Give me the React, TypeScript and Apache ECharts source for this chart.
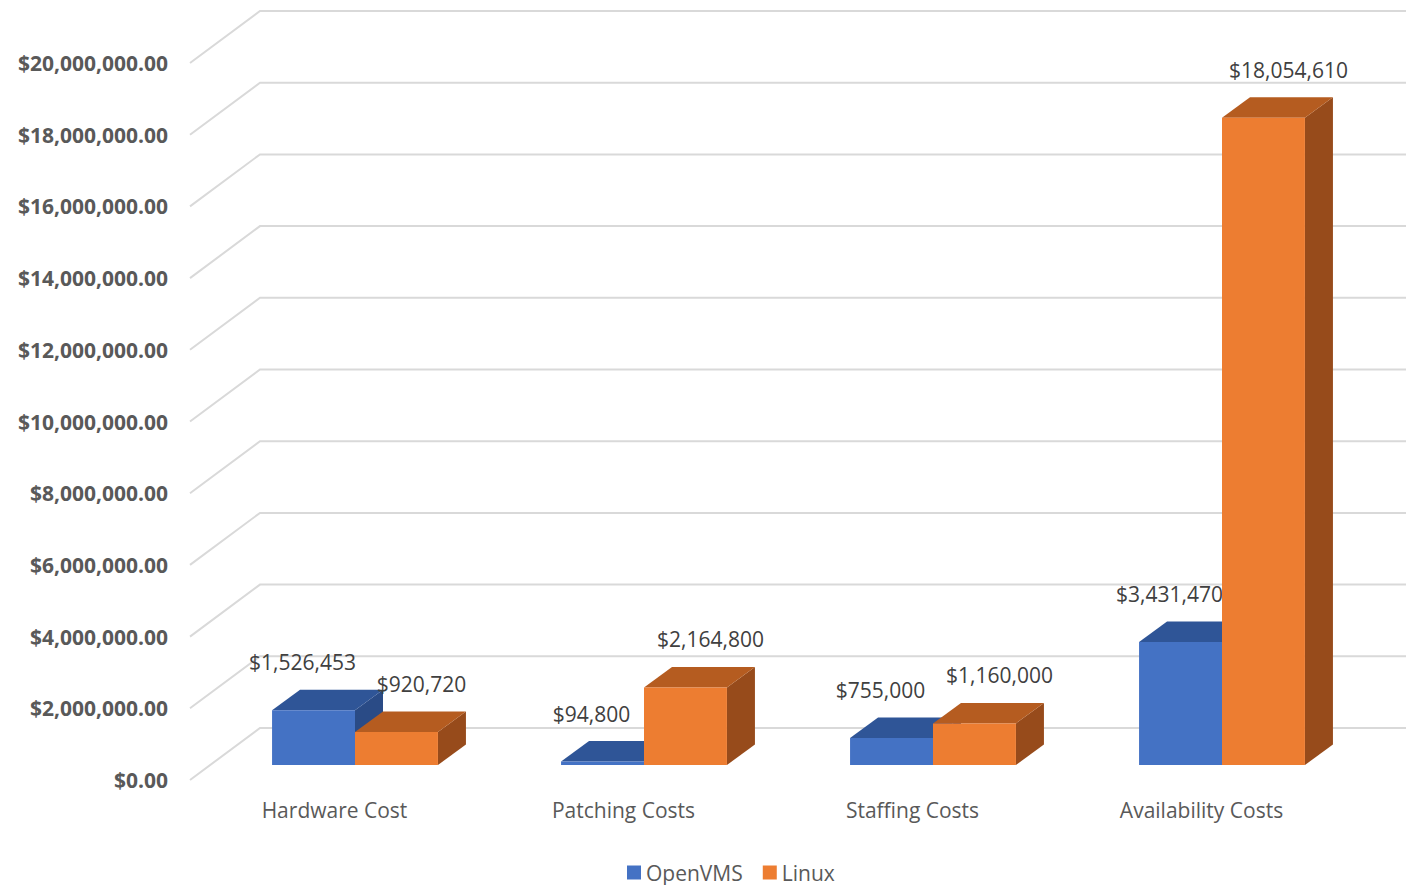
import React, { useEffect, useRef } from "react";
import * as echarts from "echarts";

const categories = ["Hardware Cost", "Patching Costs", "Staffing Costs", "Availability Costs"];
const seriesNames = ["OpenVMS", "Linux"];
const openVMS = [1526453, 94800, 755000, 3431470];
const linux = [920720, 2164800, 1160000, 18054610];
const yTicks = [0, 2000000, 4000000, 6000000, 8000000, 10000000, 12000000, 14000000, 16000000, 18000000, 20000000];

const FONT = "'Open Sans', 'Noto Sans', sans-serif";
const FACE = {
  OpenVMS: { front: "#4472C4", top: "#2F5597", side: "#2A4B86" },
  Linux: { front: "#ED7D31", top: "#B55C20", side: "#974B1B" },
};
// perspective geometry (pixels)
const WALL_DX = 70;
const WALL_DY = -52;
const FRONT_DX = 20.5;
const FRONT_DY = -15;
const DEPTH_DX = 28;
const DEPTH_DY = -20.5;
const BAR_FRAC = 0.287;

const money = (v: number) => "$" + v.toLocaleString("en-US");

function barRender(seriesIdx: number) {
  const name = seriesNames[seriesIdx];
  const c = (FACE as any)[name];
  const labelDx = seriesIdx === 0 ? -11 : 25;
  return (params: any, api: any) => {
    const cat = api.value(0);
    const val = api.value(1);
    const base = api.coord([cat, 0]);
    const top = api.coord([cat, val]);
    const bw = api.size([1, 0])[0] * BAR_FRAC;
    const cx = base[0] + FRONT_DX;
    const x0 = seriesIdx === 0 ? cx - bw : cx;
    const x1 = x0 + bw;
    const yb = base[1] + FRONT_DY;
    const yt = top[1] + FRONT_DY;
    return {
      type: "group",
      children: [
        {
          type: "polygon",
          shape: { points: [[x1, yb], [x1, yt], [x1 + DEPTH_DX, yt + DEPTH_DY], [x1 + DEPTH_DX, yb + DEPTH_DY]] },
          style: { fill: c.side },
        },
        {
          type: "polygon",
          shape: { points: [[x0, yt], [x1, yt], [x1 + DEPTH_DX, yt + DEPTH_DY], [x0 + DEPTH_DX, yt + DEPTH_DY]] },
          style: { fill: c.top },
        },
        {
          type: "rect",
          shape: { x: x0, y: yt, width: bw, height: yb - yt },
          style: { fill: c.front },
        },
        {
          type: "text",
          x: (x0 + x1) / 2 + labelDx,
          y: yt - 48,
          style: {
            text: money(val),
            fill: "#404040",
            font: `21px ${FONT}`,
            align: "center",
            verticalAlign: "middle",
          },
        },
      ],
    };
  };
}

export default function App() {
  const ref = useRef<HTMLDivElement>(null);
  useEffect(() => {
    document.body.style.margin = "0";
    const chart = echarts.init(ref.current!, null, { renderer: "svg" });
    const gridRender = (params: any, api: any) => {
      const cs = params.coordSys;
      const y = api.coord([0, api.value(1)])[1];
      return {
        type: "polyline",
        shape: {
          points: [
            [cs.x, y],
            [cs.x + WALL_DX, y + WALL_DY],
            [cs.x + cs.width + WALL_DX + 20, y + WALL_DY],
          ],
        },
        style: { stroke: "#d9d9d9", lineWidth: 2, fill: "none" },
      };
    };
    chart.setOption({
      animation: false,
      backgroundColor: "#ffffff",
      grid: { left: 190, right: 60, top: 63, bottom: 105, containLabel: false },
      legend: {
        bottom: -3,
        left: 622,
        icon: "rect",
        itemWidth: 14,
        itemHeight: 14,
        itemGap: 20,
        data: seriesNames,
        textStyle: { fontSize: 21, color: "#595959", fontFamily: FONT },
      },
      xAxis: {
        type: "category",
        data: categories,
        axisLine: { show: false },
        axisTick: { show: false },
        axisLabel: { fontSize: 21, color: "#595959", fontFamily: FONT, margin: 19 },
      },
      yAxis: {
        type: "value",
        min: 0,
        max: 20000000,
        interval: 2000000,
        splitLine: { show: false },
        axisLine: { show: false },
        axisTick: { show: false },
        axisLabel: {
          fontSize: 21,
          fontWeight: "bold",
          color: "#595959",
          fontFamily: FONT,
          margin: 22,
          formatter: (v: number) =>
            "$" + v.toLocaleString("en-US", { minimumFractionDigits: 2, maximumFractionDigits: 2 }),
        },
      },
      series: [
        {
          type: "custom",
          name: "grid",
          silent: true,
          z: 1,
          renderItem: gridRender,
          data: yTicks.map((v) => [0, v]),
          encode: { x: 0, y: 1 },
        },
        {
          type: "custom",
          name: seriesNames[0],
          z: 5,
          itemStyle: { color: FACE.OpenVMS.front },
          renderItem: barRender(0),
          data: openVMS.map((v, i) => [i, v]),
          encode: { x: 0, y: 1 },
        },
        {
          type: "custom",
          name: seriesNames[1],
          z: 6,
          itemStyle: { color: FACE.Linux.front },
          renderItem: barRender(1),
          data: linux.map((v, i) => [i, v]),
          encode: { x: 0, y: 1 },
        },
      ],
    });
    return () => chart.dispose();
  }, []);
  return <div ref={ref} style={{ width: 1406, height: 885 }} />;
}
